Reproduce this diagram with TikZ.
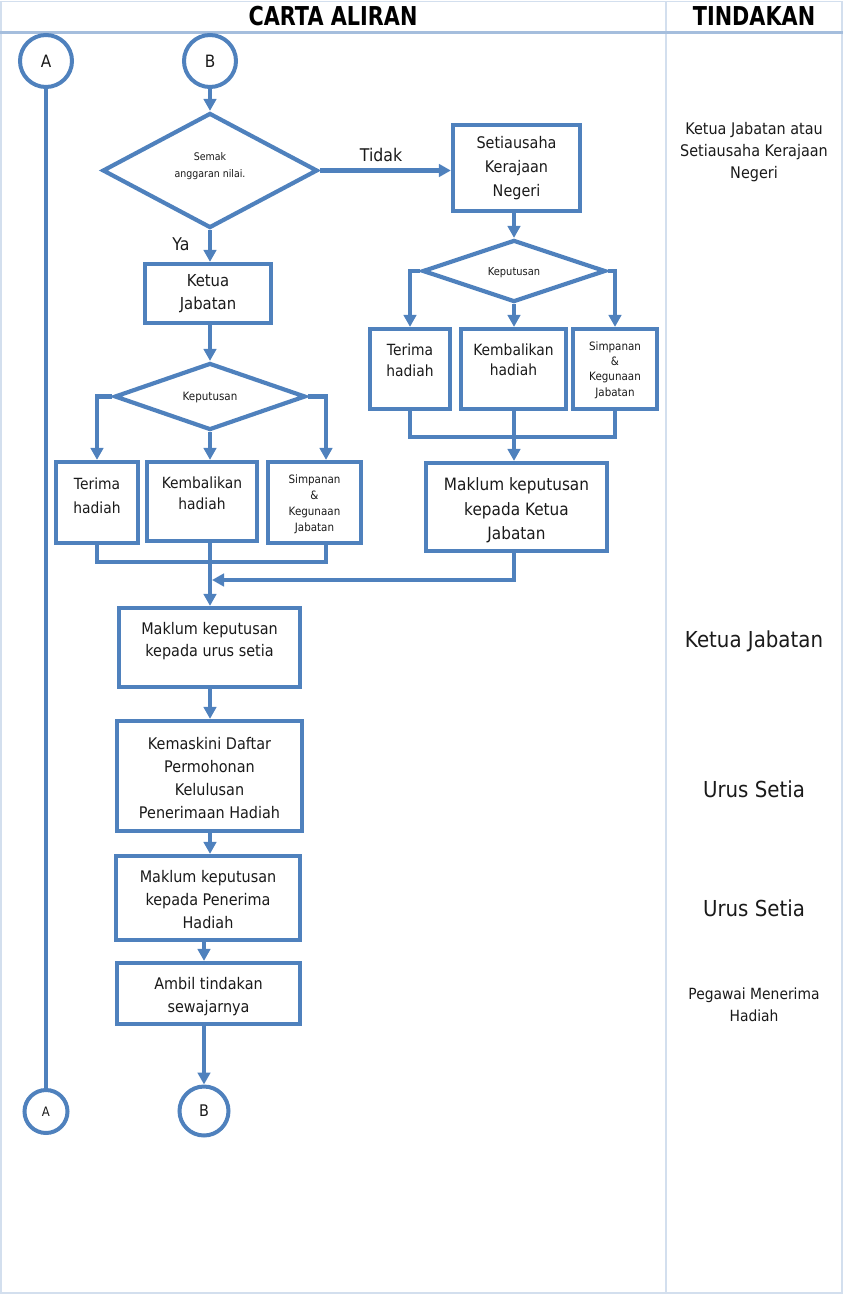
\documentclass[tikz,border=0pt]{standalone}
\usepackage{fontspec}
\setmainfont{DejaVu Sans}[FakeStretch=0.9]
\newfontfamily\hdrfont[FakeStretch=0.8]{DejaVu Sans}
\usetikzlibrary{arrows.meta,shapes.geometric,calc}
\definecolor{flow}{HTML}{4F81BD}
\definecolor{framec}{HTML}{D3DFEE}
\definecolor{hline}{HTML}{A5BEDD}
\definecolor{ink}{HTML}{1A1A1A}
\newcommand{\fsz}[2]{\fontsize{#1}{#2}\selectfont}
\begin{document}
\begin{tikzpicture}[x=1pt,y=-1pt,
  fl/.style={draw=flow,line width=4.2pt},
  arr/.style={draw=flow,line width=4.2pt,-{Triangle[width=12.5pt,length=12pt]}},
  box/.style={draw=flow,line width=4.2pt,rectangle,inner sep=0pt},
  dia/.style={draw=flow,line width=4.2pt,diamond,inner sep=0pt},
  conn/.style={draw=flow,line width=4pt,circle,inner sep=0pt,text=ink,font=\fsz{17}{19}},
  txt/.style={text=ink,align=center,inner sep=0pt},
  hdr/.style={text=black,inner sep=0pt,font=\hdrfont\bfseries\fsz{26}{26}},
  frm/.style={draw=framec,line width=1.5pt}
]
\useasboundingbox (0,0) rectangle (843,1295);
% frame
\draw[frm] (1,1.5) rectangle (842,1293);
\draw[frm] (666,1.5) -- (666,1293);
\draw[draw=hline,line width=3pt] (0,32.5) -- (843,32.5);
\node[hdr] (h1) at (333,16.5) {CARTA ALIRAN};
\node[hdr] (h2) at (754,16.5) {TINDAKAN};

% connector circles
\node[conn,minimum size=52pt] (A1) at (46,61) {A};
\node[conn,minimum size=52pt] (B1) at (210,61) {B};
\node[conn,minimum size=43pt,font=\fsz{13}{15}] (A2) at (46,1111.5) {A};
\node[conn,minimum size=49pt,font=\fsz{16}{18}] (B2) at (204,1111) {B};

% decision 1
\node[dia,minimum width=215pt,minimum height=115pt] (D1) at (210,170.5) {};
\node[txt,font=\fsz{10.5}{17}] (D1t) at (210,166) {Semak\\anggaran nilai.};
\node[txt,font=\fsz{17.5}{19}] (tidak) at (381,155) {Tidak};
\node[txt,font=\fsz{17.5}{19}] (ya) at (181,244) {Ya};

% boxes
\node[box,minimum width=126pt,minimum height=59pt,txt,font=\fsz{16.5}{23}] (KJ) at (208,293.5) {Ketua\\Jabatan};
\node[box,minimum width=127pt,minimum height=86pt,txt,font=\fsz{16}{24}] (S1) at (516.5,168) {Setiausaha\\Kerajaan\\Negeri};

% left decision
\node[dia,minimum width=191pt,minimum height=67pt] (D2) at (210,396.5) {};
\node[txt,font=\fsz{11.5}{13}] (D2t) at (210,398) {Keputusan};
\node[box,minimum width=82pt,minimum height=81pt] (LT) at (97,502.5) {};
\node[txt,font=\fsz{15.4}{24}] (LTt) at (97,495.5) {Terima\\hadiah};
\node[box,minimum width=110pt,minimum height=79pt] (LK) at (202,501.5) {};
\node[txt,font=\fsz{15.4}{21}] (LKt) at (202,493) {Kembalikan\\hadiah};
\node[box,minimum width=93pt,minimum height=81pt] (LS) at (314.5,502.5) {};
\node[txt,font=\fsz{11.5}{16}] (LSt) at (314.5,504) {Simpanan\\\&\\Kegunaan\\Jabatan};

% right decision
\node[dia,minimum width=183pt,minimum height=62pt] (D3) at (514,271) {};
\node[txt,font=\fsz{11}{13}] (D3t) at (514,273) {Keputusan};
\node[box,minimum width=80pt,minimum height=80pt] (RT) at (410,369) {};
\node[txt,font=\fsz{15.4}{21}] (RTt) at (410,360) {Terima\\hadiah};
\node[box,minimum width=105pt,minimum height=80pt] (RK) at (513.5,369) {};
\node[txt,font=\fsz{15.4}{20}] (RKt) at (513.5,360) {Kembalikan\\hadiah};
\node[box,minimum width=84pt,minimum height=80pt] (RS) at (615,369) {};
\node[txt,font=\fsz{11.5}{15.3}] (RSt) at (615,370) {Simpanan\\\&\\Kegunaan\\Jabatan};

\node[box,minimum width=181pt,minimum height=88pt] (MK) at (516.5,507) {};
\node[txt,font=\fsz{17}{24.5}] (MKt) at (516.5,510.5) {Maklum keputusan\\kepada Ketua\\Jabatan};

% main column
\node[box,minimum width=181pt,minimum height=79pt] (MU) at (209.5,647.5) {};
\node[txt,font=\fsz{16}{22.5}] (MUt) at (209.5,641) {Maklum keputusan\\kepada urus setia};
\node[box,minimum width=185pt,minimum height=110pt] (KD) at (209.5,776) {};
\node[txt,font=\fsz{16}{23.3}] (KDt) at (209.5,778) {Kemaskini Daftar\\Permohonan\\Kelulusan\\Penerimaan Hadiah};
\node[box,minimum width=184pt,minimum height=84pt] (MP) at (208,898) {};
\node[txt,font=\fsz{16}{23}] (MPt) at (208,900) {Maklum keputusan\\kepada Penerima\\Hadiah};
\node[box,minimum width=183pt,minimum height=61pt] (AM) at (208.5,993.5) {};
\node[txt,font=\fsz{16}{23}] (AMt) at (208.5,996.5) {Ambil tindakan\\sewajarnya};

% right column texts
\node[txt,font=\fsz{16}{22}] (r1) at (754,152) {Ketua Jabatan atau\\Setiausaha Kerajaan\\Negeri};
\node[txt,font=\fsz{22}{24}] (r2) at (754,641) {Ketua Jabatan};
\node[txt,font=\fsz{22}{24}] (r3) at (754,789) {Urus Setia};
\node[txt,font=\fsz{22}{24}] (r4) at (754,908) {Urus Setia};
\node[txt,font=\fsz{15.4}{22}] (r5) at (754,1005) {Pegawai Menerima\\Hadiah};

% connectors
\draw[fl] (A1) -- (A2);
\draw[arr] (B1) -- (D1.north);
\draw[arr] (D1.east) -- (D1.east -| S1.west);
\draw[arr] (D1.south) -- (D1.south |- KJ.north);
\draw[arr] (KJ.south -| D2.north) -- (D2.north);
\draw[arr] (D2.west) -| (LT.north);
\draw[arr] (D2.east) -| ($(LS.north)+(11.5,0)$);
\draw[arr] (D2.south) -- (D2.south |- LK.north);
\coordinate (J1) at (210,562);
\draw[fl] (LT.south) |- (J1) -| ($(LS.south)+(11.5,0)$);
\draw[fl] (LK.south -| J1) -- (J1);
\draw[arr] (J1) -- (J1 |- MU.north);

\draw[arr] (S1.south -| D3.north) -- (D3.north);
\draw[arr] (D3.west) -| (RT.north);
\draw[arr] (D3.east) -| (RS.north);
\draw[arr] (D3.south) -- (D3.south |- RK.north);
\coordinate (J2) at (514,437);
\draw[fl] (RT.south) |- (J2) -| (RS.south);
\draw[fl] (RK.south -| J2) -- (J2);
\draw[arr] (J2) -- (J2 |- MK.north);
\coordinate (J3) at (212,580);
\draw[arr] (MK.south -| J2) |- (J3);

\draw[arr] (MU.south -| J1) -- (J1 |- KD.north);
\draw[arr] (KD.south -| J1) -- (J1 |- MP.north);
\draw[arr] (MP.south -| B2) -- (B2 |- AM.north);
\draw[arr] (AM.south -| B2) -- (B2.north);
\end{tikzpicture}
\end{document}
